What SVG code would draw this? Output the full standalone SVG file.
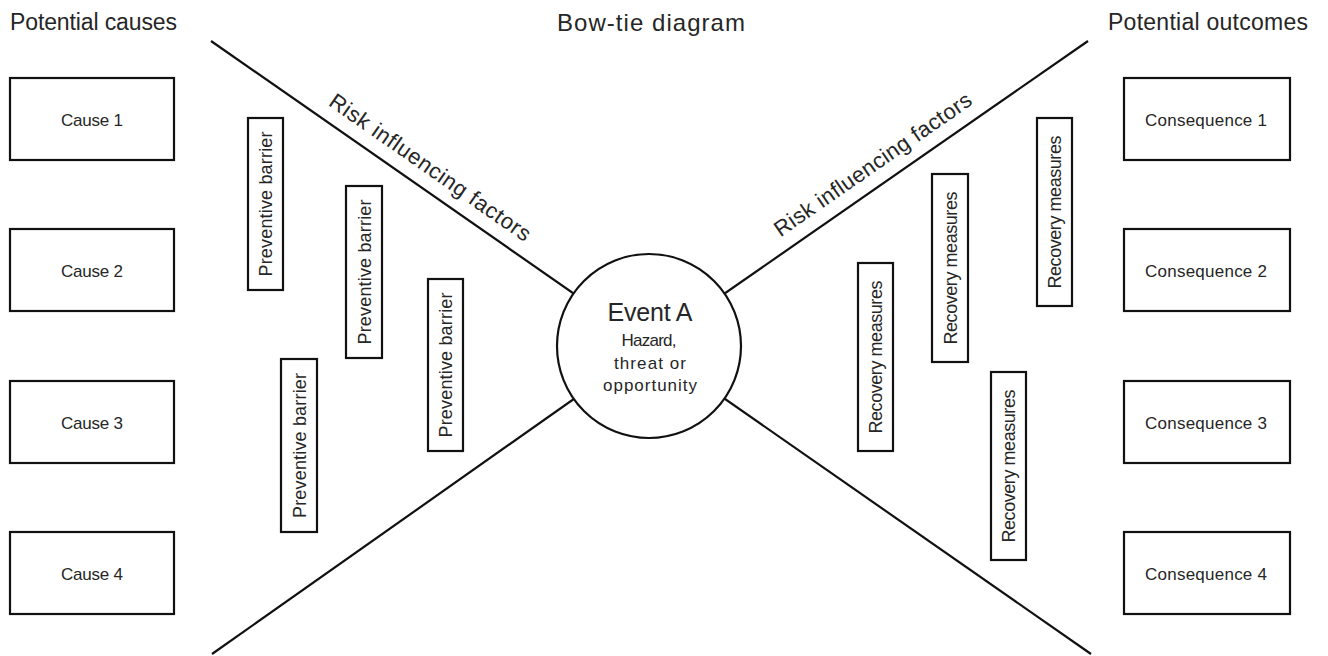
<svg xmlns="http://www.w3.org/2000/svg" width="1328" height="656" viewBox="0 0 1328 656">
<style>
text{font-family:"Liberation Sans",Arial,sans-serif;fill:#262626}
.title{font-size:23px}
.box{fill:#fff;stroke:#111;stroke-width:2.2}
.lbl{font-size:17px;text-anchor:middle}
.vt{font-size:18px;text-anchor:middle}
.line{stroke:#111;stroke-width:2.2;fill:none}
.rif{font-size:22px;text-anchor:middle}
</style>
<rect width="1328" height="656" fill="#fff"/>
<g id="titles">
<text class="title" x="10" y="30" textLength="167">Potential causes</text>
<text class="title" x="557" y="31" textLength="188" style="font-size:24px">Bow-tie diagram</text>
<text class="title" x="1108" y="30" textLength="200">Potential outcomes</text>
</g>
<g id="connectors">
<line class="line" x1="211" y1="41" x2="649" y2="346"/>
<line class="line" x1="1088" y1="41" x2="649" y2="346"/>
<line class="line" x1="212" y1="654" x2="649" y2="346"/>
<line class="line" x1="1091" y1="654" x2="649" y2="346"/>
</g>
<g id="rif-left" transform="translate(418,185) rotate(34.9)">
<text class="rif" x="0" y="-14" textLength="240">Risk influencing factors</text>
</g>
<g id="rif-right" transform="translate(885,182) rotate(-34.7)">
<text class="rif" x="0" y="-14" textLength="235">Risk influencing factors</text>
</g>
<g id="event">
<circle cx="649" cy="346" r="92" fill="#fff" stroke="#111" stroke-width="2.2"/>
<text x="650" y="321" style="font-size:25px;text-anchor:middle" textLength="85">Event A</text>
<text class="lbl" x="649" y="346" textLength="55">Hazard,</text>
<text class="lbl" x="650" y="369" textLength="72">threat or</text>
<text class="lbl" x="650" y="391" textLength="94">opportunity</text>
</g>
<g id="cause1"><rect class="box" x="10" y="78" width="164" height="82"/><text class="lbl" x="92" y="126" textLength="62">Cause 1</text></g>
<g id="cause2"><rect class="box" x="10" y="229" width="164" height="82"/><text class="lbl" x="92" y="277" textLength="62">Cause 2</text></g>
<g id="cause3"><rect class="box" x="10" y="381" width="164" height="82"/><text class="lbl" x="92" y="429" textLength="62">Cause 3</text></g>
<g id="cause4"><rect class="box" x="10" y="532" width="164" height="82"/><text class="lbl" x="92" y="580" textLength="62">Cause 4</text></g>
<g id="cons1"><rect class="box" x="1124" y="78" width="166" height="82"/><text class="lbl" x="1206" y="126" textLength="122">Consequence 1</text></g>
<g id="cons2"><rect class="box" x="1124" y="229" width="166" height="82"/><text class="lbl" x="1206" y="277" textLength="122">Consequence 2</text></g>
<g id="cons3"><rect class="box" x="1124" y="381" width="166" height="82"/><text class="lbl" x="1206" y="429" textLength="122">Consequence 3</text></g>
<g id="cons4"><rect class="box" x="1124" y="532" width="166" height="82"/><text class="lbl" x="1206" y="580" textLength="122">Consequence 4</text></g>
<g id="pb1"><rect class="box" x="248" y="118" width="35" height="172"/><text class="vt" transform="translate(272,204) rotate(-90)" textLength="145">Preventive barrier</text></g>
<g id="pb2"><rect class="box" x="346" y="186" width="36" height="172"/><text class="vt" transform="translate(370.5,272) rotate(-90)" textLength="145">Preventive barrier</text></g>
<g id="pb3"><rect class="box" x="428" y="279" width="35" height="172"/><text class="vt" transform="translate(452,365) rotate(-90)" textLength="145">Preventive barrier</text></g>
<g id="pb4"><rect class="box" x="281" y="359" width="36" height="173"/><text class="vt" transform="translate(305.5,445.5) rotate(-90)" textLength="145">Preventive barrier</text></g>
<g id="rm1"><rect class="box" x="858" y="263" width="35" height="188"/><text class="vt" transform="translate(882,357) rotate(-90)" textLength="153">Recovery measures</text></g>
<g id="rm2"><rect class="box" x="932" y="174" width="36" height="188"/><text class="vt" transform="translate(956.5,268) rotate(-90)" textLength="153">Recovery measures</text></g>
<g id="rm3"><rect class="box" x="1037" y="118" width="35" height="188"/><text class="vt" transform="translate(1061,212) rotate(-90)" textLength="153">Recovery measures</text></g>
<g id="rm4"><rect class="box" x="991" y="372" width="35" height="188"/><text class="vt" transform="translate(1015,466) rotate(-90)" textLength="153">Recovery measures</text></g>
</svg>
